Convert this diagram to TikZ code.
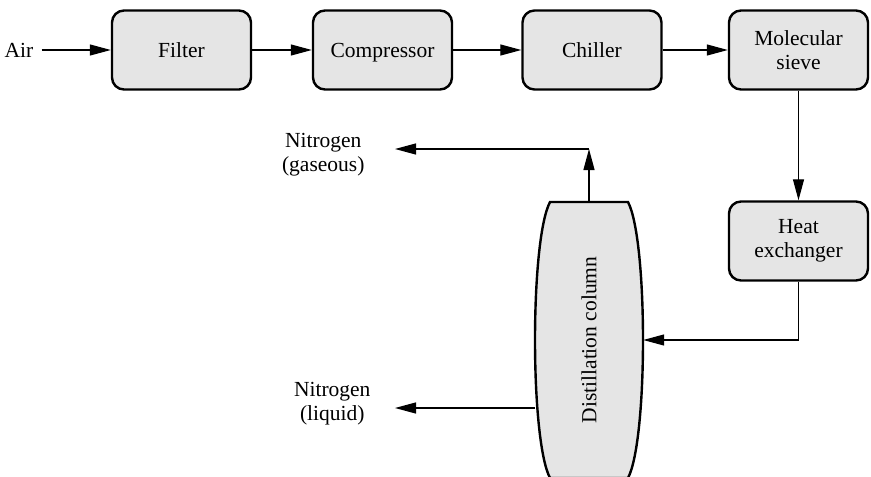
\documentclass[tikz,border=0pt]{standalone}
\usepackage{fontspec}
\setmainfont{Liberation Serif}
\usetikzlibrary{arrows.meta}

\tikzset{
  unit/.style={draw, line width=2.4pt, rounded corners=12pt, fill=black!10,
    minimum width=139pt, minimum height=79pt, align=center},
  oneline/.style={text height=14.6pt, text depth=0pt},
  flow/.style={line width=1.2pt, -{Triangle[length=21pt, width=11pt]}},
  lbl/.style={align=center}
}

\begin{document}
\begin{tikzpicture}[x=1pt, y=-1pt, font=\fontsize{21.5}{24}\selectfont]
\useasboundingbox (0,0) rectangle (871,477);

\node[unit, oneline] (filter) at (181.5,50) {Filter};
\node[unit, oneline] (compressor) at (382.5,50) {Compressor};
\node[unit, oneline] (chiller) at (592,50) {Chiller};
\node[unit] (sieve) at (798.5,50) {Molecular\\sieve};
\node[unit] (hx) at (798.5,241) {Heat\\exchanger};
\node[outer xsep=5pt] (air) at (19,50) {Air};

\draw[line width=2.4pt, fill=black!10] (550,202) -- (628,202)
  .. controls (648,240) and (648,440) .. (628,478) -- (550,478)
  .. controls (530,440) and (530,240) .. (550,202) -- cycle;
\node[minimum width=108pt, minimum height=276pt, inner sep=0pt] (column) at (589,340) {};
\node[rotate=90] at (column.center) {Distillation column};

\coordinate (gastop) at (589,149);
\coordinate (gasout) at (395,149);
\coordinate (liqout) at (395,408);
\node[lbl, anchor=east] (gas) at (368,155) {Nitrogen\\(gaseous)};
\node[lbl, anchor=east] (liquid) at (374,404) {Nitrogen\\(liquid)};

\draw[flow] (air) -- (filter);
\foreach \a/\b in {filter/compressor, compressor/chiller, chiller/sieve, sieve/hx}
\draw[flow] (\a) -- (\b);

\draw[flow] (hx.south) |- (column.east);
\draw[flow] (column.north) -- (gastop);
\draw[flow] (gastop) -- (gasout);
\draw[flow] (column.west |- liqout) -- (liqout);
\end{tikzpicture}
\end{document}
